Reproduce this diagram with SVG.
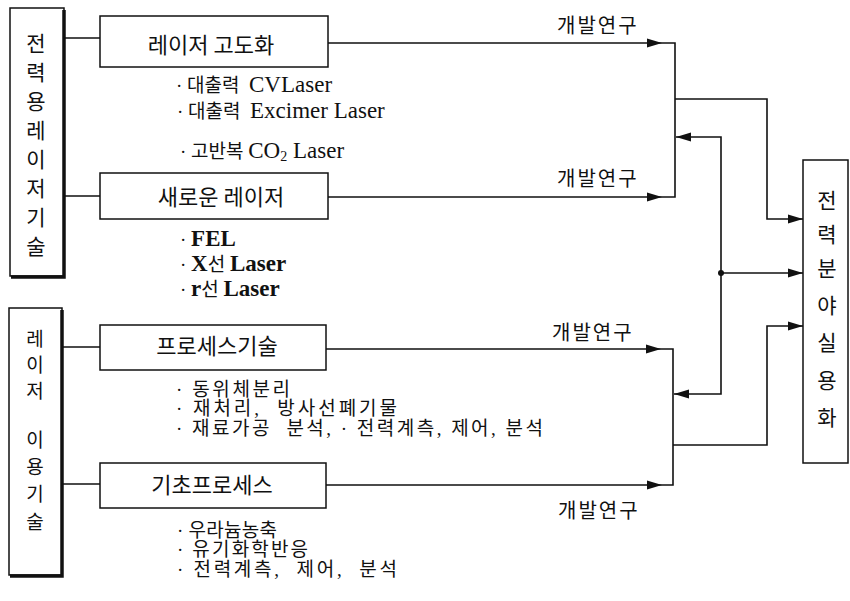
<svg xmlns="http://www.w3.org/2000/svg" width="850" height="601" viewBox="0 0 850 601">
<style>
  .box{fill:#fff;stroke:#111;stroke-width:1.5}
  .shadow{fill:none;stroke:#111;stroke-width:3.5}
  .ln{fill:none;stroke:#111;stroke-width:1.6}
  .ko{font-family:"Noto Sans CJK KR","Noto Sans",sans-serif;fill:#111}
  .vt{font-size:21px;text-anchor:middle}
  .vs{font-size:19px;text-anchor:middle}
  .lbl{font-size:22px;text-anchor:middle}
  .it{font-family:"Liberation Serif","Noto Sans CJK KR",serif;font-size:19px;fill:#111}
  .la{font-size:23px}
  .rd{font-family:"Noto Sans CJK KR",sans-serif;font-size:20px;fill:#111;letter-spacing:2px}
</style>
<defs>
  <path id="ah" d="M0 0 L-15 -4.5 L-15 4.5 Z" fill="#111"/>
</defs>
<rect width="850" height="601" fill="#fff"/>

<g id="left-tech">
  <rect class="box" x="10" y="8" width="54" height="268"/>
  <path class="shadow" d="M64 10 V277 H11"/>
  <g class="ko vt">
    <text x="36" y="51">전</text>
    <text x="36" y="80">력</text>
    <text x="36" y="109">용</text>
    <text x="36" y="138">레</text>
    <text x="36" y="167">이</text>
    <text x="36" y="196">저</text>
    <text x="36" y="225">기</text>
    <text x="36" y="254">술</text>
  </g>
</g>

<g id="left-use">
  <rect class="box" x="9" y="308" width="53" height="267"/>
  <path class="shadow" d="M62 310 V576 H10"/>
  <g class="ko vs">
    <text x="35" y="346">레</text>
    <text x="35" y="372">이</text>
    <text x="35" y="398">저</text>
    <text x="35" y="447">이</text>
    <text x="35" y="474">용</text>
    <text x="35" y="501">기</text>
    <text x="35" y="529">술</text>
  </g>
</g>

<g id="node-laser-adv">
  <rect class="box" x="100" y="16" width="228" height="51"/>
  <text class="ko lbl" x="211" y="53">레이저 고도화</text>
</g>
<g id="node-new-laser">
  <rect class="box" x="100" y="173" width="228" height="46"/>
  <text class="ko lbl" x="221" y="205">새로운 레이저</text>
</g>
<g id="node-process">
  <rect class="box" x="100" y="325" width="226" height="45"/>
  <text class="ko lbl" x="217" y="354">프로세스기술</text>
</g>
<g id="node-basic">
  <rect class="box" x="100" y="463" width="226" height="45"/>
  <text class="ko lbl" x="212" y="493">기초프로세스</text>
</g>
<g id="node-practical">
  <rect class="box" x="803" y="160" width="45" height="303"/>
  <g class="ko vt">
    <text x="827" y="208">전</text>
    <text x="827" y="242">력</text>
    <text x="827" y="276">분</text>
    <text x="827" y="313">야</text>
    <text x="827" y="350">실</text>
    <text x="827" y="388">용</text>
    <text x="827" y="425">화</text>
  </g>
</g>

<g id="items">
  <text class="it" x="176" y="92" xml:space="preserve">· 대출력  <tspan class="la">CVLaser</tspan></text>
  <text class="it" x="177" y="118" xml:space="preserve">· 대출력  <tspan class="la">Excimer Laser</tspan></text>
  <text class="it" x="180" y="158" xml:space="preserve">· 고반복 <tspan class="la">CO</tspan><tspan font-size="14" dy="3">2</tspan><tspan class="la" dy="-3"> Laser</tspan></text>
  <text class="it" x="180" y="246" xml:space="preserve">· <tspan class="la" font-weight="bold">FEL</tspan></text>
  <text class="it" x="180" y="271" xml:space="preserve">· <tspan class="la" font-weight="bold">X</tspan>선 <tspan class="la" font-weight="bold">Laser</tspan></text>
  <text class="it" x="180" y="296" xml:space="preserve">· <tspan class="la" font-weight="bold">r</tspan>선 <tspan class="la" font-weight="bold">Laser</tspan></text>
  <text class="it" x="176" y="396" textLength="114" lengthAdjust="spacing">· 동위체분리</text>
  <text class="it" x="176" y="415" textLength="221" lengthAdjust="spacing" xml:space="preserve">· 재처리,  방사선폐기물</text>
  <text class="it" x="176" y="435" textLength="367" lengthAdjust="spacing" xml:space="preserve">· 재료가공  분석, · 전력계측, 제어, 분석</text>
  <text class="it" x="177" y="537" textLength="100" lengthAdjust="spacing">· 우라늄농축</text>
  <text class="it" x="177" y="556" textLength="131" lengthAdjust="spacing">· 유기화학반응</text>
  <text class="it" x="177" y="576" textLength="220" lengthAdjust="spacing" xml:space="preserve">· 전력계측,  제어,  분석</text>
</g>

<g id="connectors">
  <path class="ln" d="M64 38 H100 M64 196 H100 M62 347 H100 M62 484 H100"/>
  <path class="ln" d="M328 43 H675 V197 H328"/>
  <path class="ln" d="M326 349 H673 V485 H326"/>
  <path class="ln" d="M675 99 H767 V219 H803"/>
  <path class="ln" d="M673 445 H767 V326 H803"/>
  <path class="ln" d="M676 137 H721 V394 H674"/>
  <path class="ln" d="M721 273 H803"/>
  <circle cx="721" cy="273" r="3" fill="#111"/>
  <use href="#ah" transform="translate(662 43)"/>
  <use href="#ah" transform="translate(662 197)"/>
  <use href="#ah" transform="translate(661 349)"/>
  <use href="#ah" transform="translate(662 485)"/>
  <use href="#ah" transform="translate(803 219)"/>
  <use href="#ah" transform="translate(803 273)"/>
  <use href="#ah" transform="translate(803 326)"/>
  <use href="#ah" transform="translate(676 137) rotate(180)"/>
  <use href="#ah" transform="translate(674 394) rotate(180)"/>
  <text class="rd" x="557" y="33">개발연구</text>
  <text class="rd" x="557" y="186">개발연구</text>
  <text class="rd" x="552" y="340">개발연구</text>
  <text class="rd" x="558" y="518">개발연구</text>
</g>
</svg>
